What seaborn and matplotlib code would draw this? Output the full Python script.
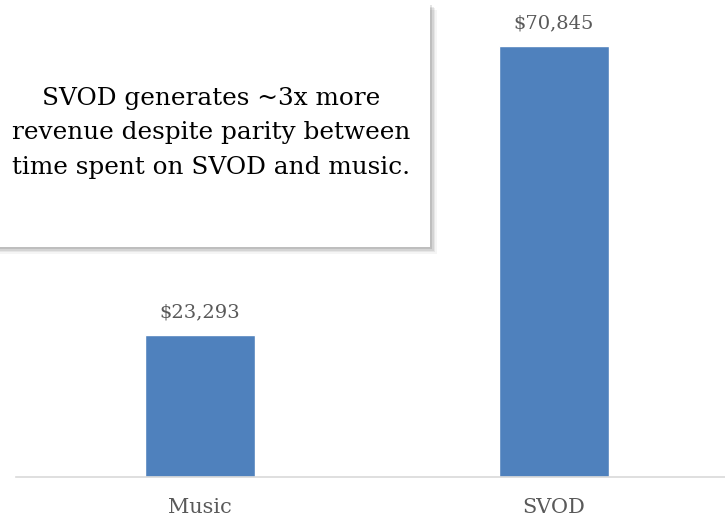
import matplotlib
matplotlib.use("Agg")
import matplotlib.pyplot as plt
import matplotlib.patches as mpatches
import seaborn as sns
import pandas as pd

# Data
categories = ["Music", "SVOD"]
revenue = [23293, 70845]
note = "SVOD generates ~3x more\nrevenue despite parity between\ntime spent on SVOD and music."

df = pd.DataFrame({"Category": categories, "Revenue": revenue})

sns.set_style("white")
plt.rcParams['font.family'] = ['DejaVu Serif']

W, H = 725, 521
fig = plt.figure(figsize=(W / 100, H / 100), dpi=100)
ax = fig.add_axes([16 / W, 44 / H, 715 / W, 477 / H])

sns.barplot(data=df, x="Category", y="Revenue", color="#4F81BD", width=0.31,
            saturation=1, ax=ax)
ax.set_xlim(-0.52, 1.5)
ax.set_ylim(0, 78405)

for i, v in enumerate(revenue):
    ax.annotate(f"${v:,}", (i, v), xytext=(0, 10), textcoords="offset points",
                ha="center", va="bottom", fontsize=14, color="#595959")

ax.set_xlabel("")
ax.set_ylabel("")
ax.set_yticks([])
ax.tick_params(axis="x", length=0, pad=15, labelsize=15, labelcolor="#595959")
for s in ["top", "right", "left"]:
    ax.spines[s].set_visible(False)
ax.spines["bottom"].set_color("#d9d9d9")
ax.spines["bottom"].set_linewidth(1.2)

# Callout box with soft shadow
for k, a in enumerate([0.10, 0.08, 0.06, 0.04]):
    off = 2 + k * 1.5
    fig.patches.append(mpatches.Rectangle(((-10 + off) / W, 1 - (247 + off) / H),
                                          440 / W, 244 / H, transform=fig.transFigure,
                                          facecolor="black", alpha=a, edgecolor="none",
                                          zorder=5))
fig.patches.append(mpatches.Rectangle((-10 / W, 1 - 247 / H), 440 / W, 244 / H,
                                      transform=fig.transFigure, facecolor="white",
                                      edgecolor="none", zorder=6))
fig.text(211 / W, 1 - 133 / H, note, ha="center", va="center", fontsize=17.8,
         linespacing=1.65, color="black", zorder=7)

fig.savefig("out.png", dpi=100)
